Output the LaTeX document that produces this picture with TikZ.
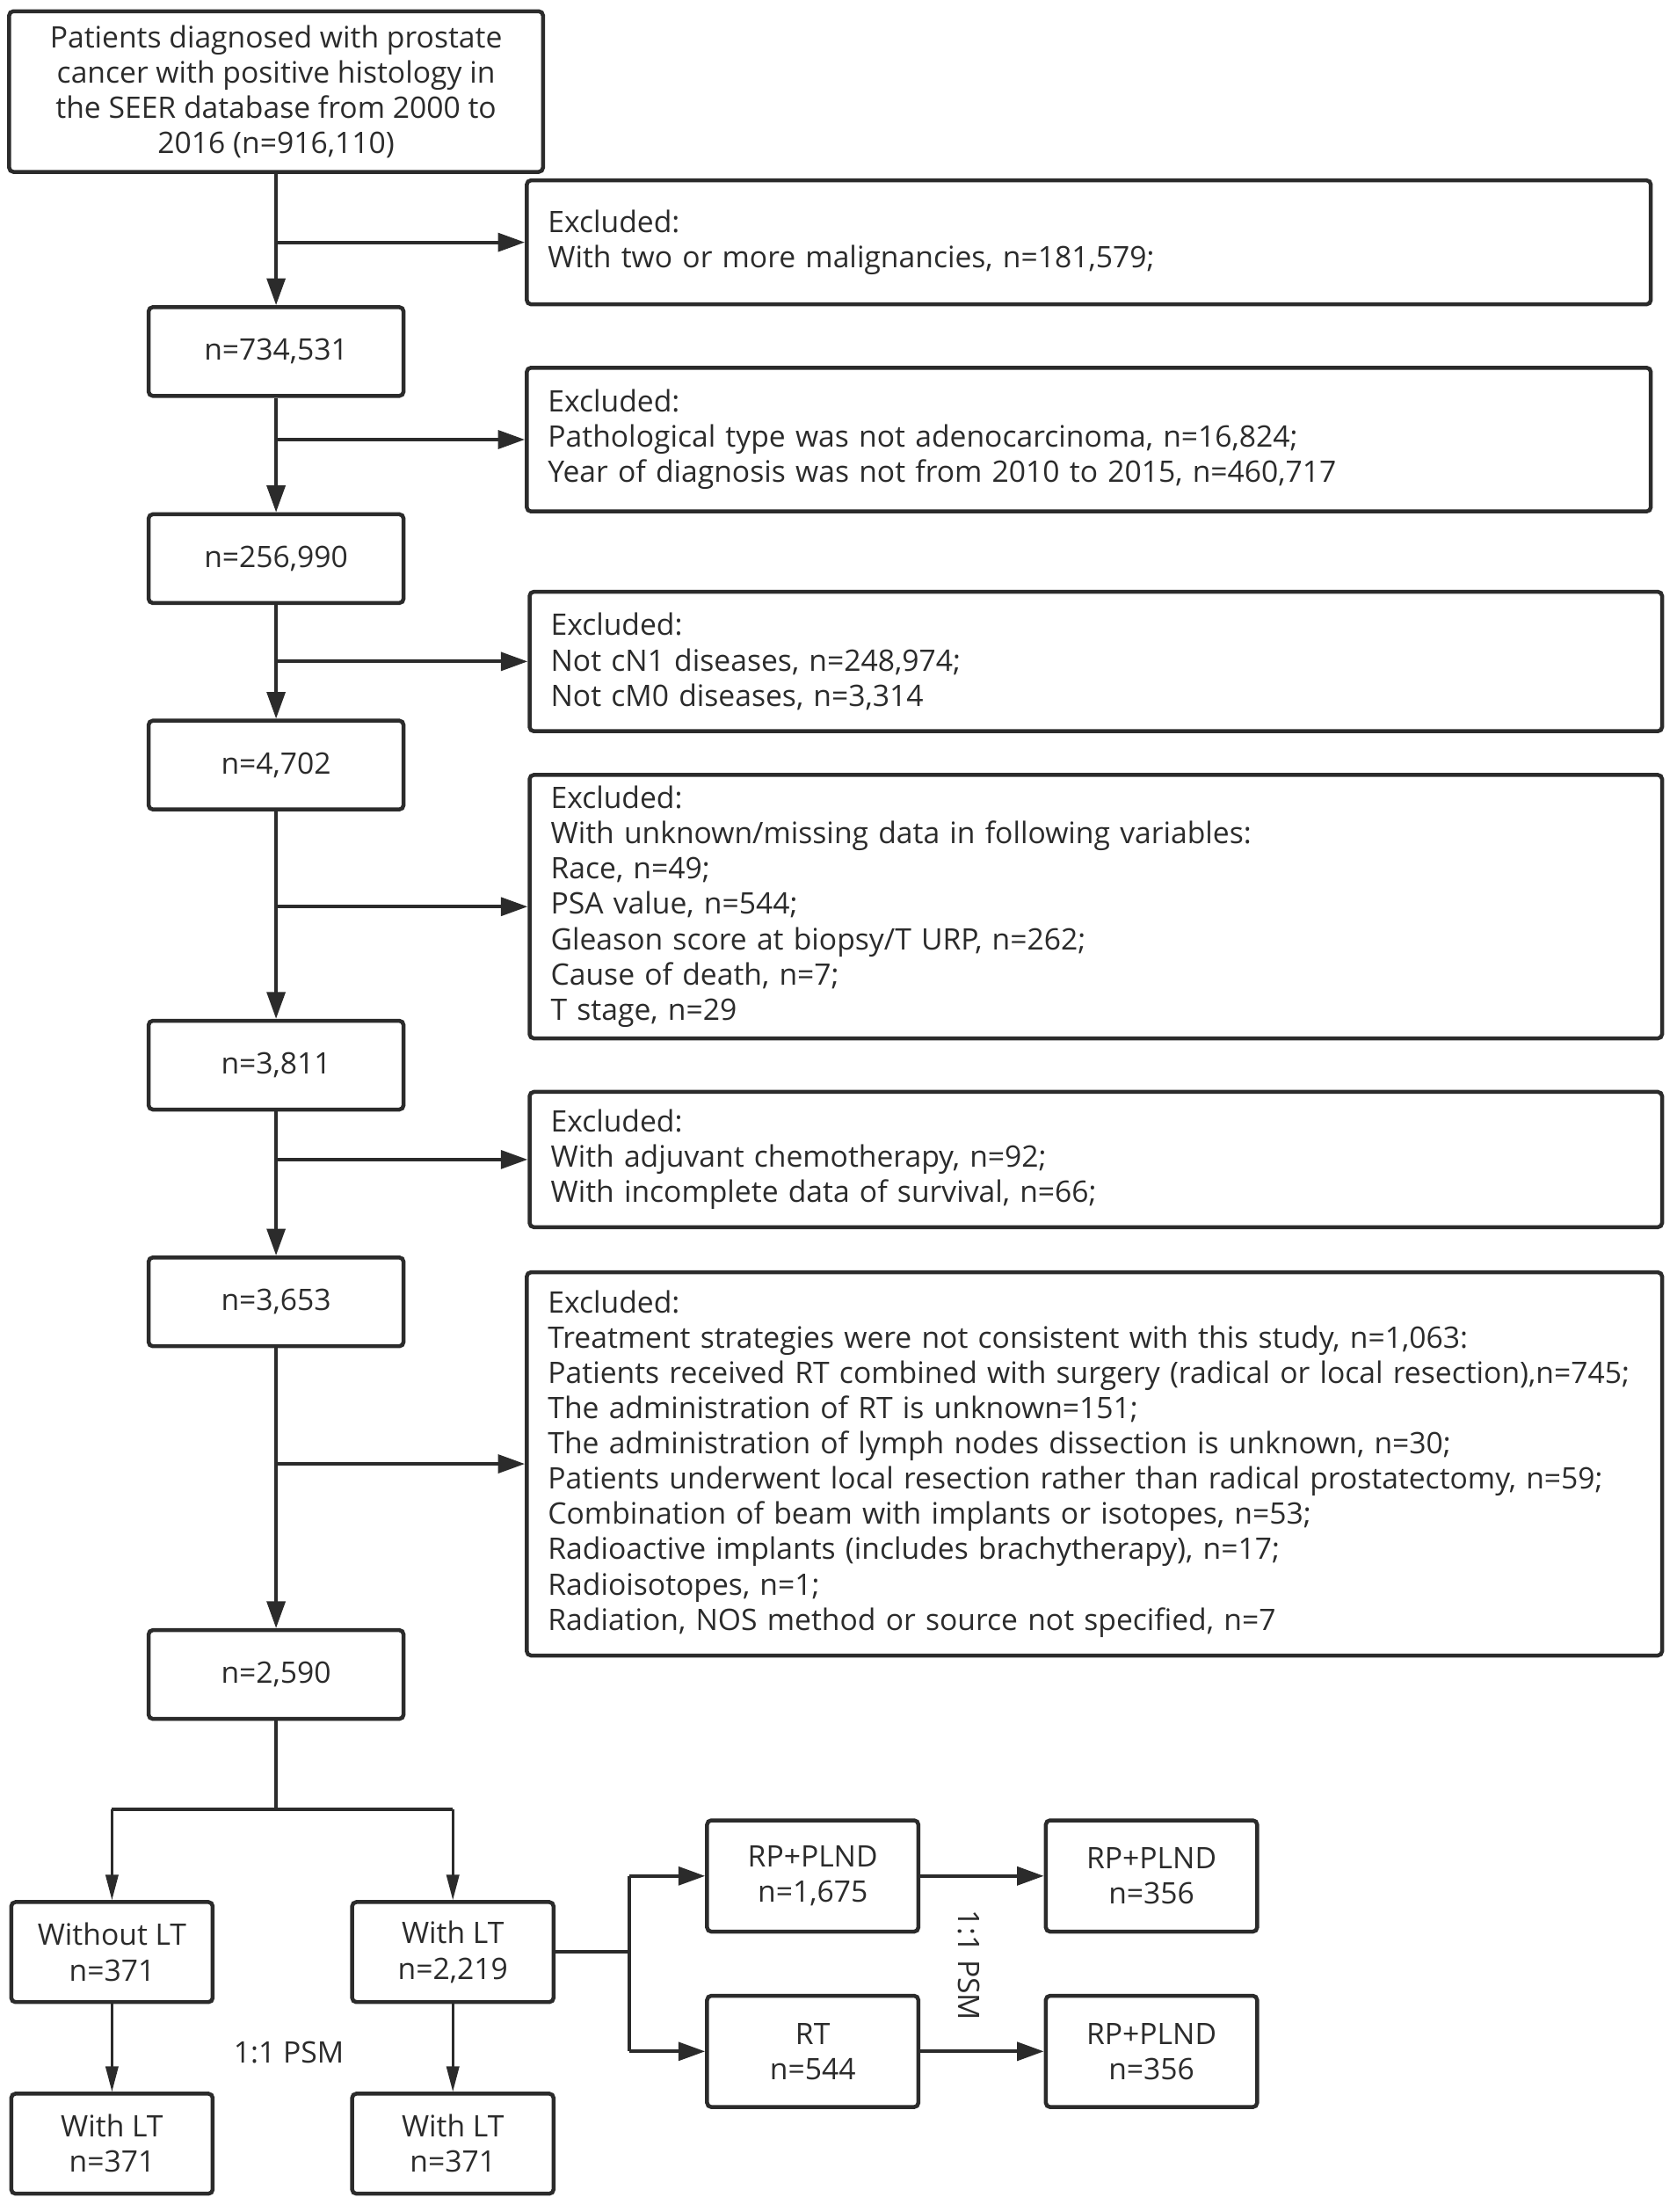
\documentclass[tikz,border=0pt]{standalone}
\usepackage{fontspec}
\setmainfont{Open Sans}
\usetikzlibrary{positioning, arrows.meta}
\definecolor{ink}{HTML}{2B2B2B}

\begin{document}
\begin{tikzpicture}[x=1pt, y=-1pt,
    font=\fontsize{21pt}{25pt}\selectfont, text=ink,
    box/.style={draw=ink, line width=2.8pt, rounded corners=3pt, align=center, inner sep=0pt},
    nbox/.style={box, minimum width=181pt, minimum height=63pt},
    sbox/.style={box, minimum width=143pt, minimum height=71pt},
    tbox/.style={box, minimum width=150pt, minimum height=79pt},
    exbox/.style={box, align=left, inner xsep=15pt},
    flow/.style={draw=ink, line width=2.4pt, -{Triangle[length=19pt, width=13pt]}},
    thinflow/.style={draw=ink, line width=1.6pt, -{Triangle[length=18pt, width=9pt]}},
    bar/.style={draw=ink, line width=2.4pt}]
    \useasboundingbox (0,0) rectangle (1190,1570);

    % main column
    \node [box, minimum width=379pt, minimum height=114pt] (all) at (196, 65)
        {Patients diagnosed with prostate\\cancer with positive histology in\\the SEER database from 2000 to\\2016 (n=916,110)};
    \node [nbox] (n1) at (196, 249.5) {n=734,531};
    \node [nbox] (n2) at (196, 396.5) {n=256,990};
    \node [nbox] (n3) at (196, 543) {n=4,702};
    \node [nbox] (n4) at (196, 756) {n=3,811};
    \node [nbox] (n5) at (196, 924) {n=3,653};
    \node [nbox] (n6) at (196, 1188.5) {n=2,590};

    % excluded
    \node [exbox, text width=768pt, minimum height=88pt] (ex1) at (773, 172)
        {Excluded:\\With two or more malignancies, n=181,579;};
    \node [exbox, text width=768pt, minimum height=102pt] (ex2) at (773, 312)
        {Excluded:\\Pathological type was not adenocarcinoma, n=16,824;\\Year of diagnosis was not from 2010 to 2015, n=460,717};
    \node [exbox, text width=774pt, minimum height=99pt] (ex3) at (778, 469.5)
        {Excluded:\\Not cN1 diseases, n=248,974;\\Not cM0 diseases, n=3,314};
    \node [exbox, text width=774pt, minimum height=187pt] (ex4) at (778, 643.5)
        {Excluded:\\With unknown/missing data in following variables:\\Race, n=49;\\PSA value, n=544;\\Gleason score at biopsy/T URP, n=262;\\Cause of death, n=7;\\T stage, n=29};
    \node [exbox, text width=774pt, minimum height=96pt] (ex5) at (778, 823)
        {Excluded:\\With adjuvant chemotherapy, n=92;\\With incomplete data of survival, n=66;};
    \node [exbox, text width=776pt, minimum height=272pt] (ex6) at (777, 1039)
        {Excluded:\\Treatment strategies were not consistent with this study, n=1,063:\\Patients received RT combined with surgery (radical or local resection),n=745;\\The administration of RT is unknown=151;\\The administration of lymph nodes dissection is unknown, n=30;\\Patients underwent local resection rather than radical prostatectomy, n=59;\\Combination of beam with implants or isotopes, n=53;\\Radioactive implants (includes brachytherapy), n=17;\\Radioisotopes, n=1;\\Radiation, NOS method or source not specified, n=7};

    % groups
    \node [sbox] (noLT) at (79.5, 1385.5) {Without LT\\n=371};
    \node [sbox] (LT) at (321.5, 1385.5) {With LT\\n=2,219};
    \node [sbox] (noLTm) at (79.5, 1521.5) {With LT\\n=371};
    \node [sbox] (LTm) at (321.5, 1521.5) {With LT\\n=371};
    \node (psm) at (205, 1457) {1:1 PSM};
    \node [tbox] (rp) at (577, 1331.5) {RP+PLND\\n=1,675};
    \node [tbox] (rt) at (577, 1456) {RT\\n=544};
    \node [tbox] (rpm) at (817.5, 1331.5) {RP+PLND\\n=356};
    \node [tbox] (rtm) at (817.5, 1456) {RP+PLND\\n=356};
    \node [rotate=-90] (psm2) at (688, 1395) {1:1 PSM};

    % branch points
    \coordinate (b1) at (all.south |- ex1.west);
    \coordinate (b2) at (all.south |- ex2.west);
    \coordinate (b3) at (all.south |- ex3.west);
    \coordinate (b4) at (all.south |- ex4.west);
    \coordinate (b5) at (all.south |- ex5.west);
    \coordinate (b6) at (all.south |- ex6.west);
    \coordinate (s0) at (196, 1284);
    \coordinate (s1) at (noLT.north |- s0);
    \coordinate (s2) at (LT.north |- s0);
    \coordinate (t0) at (447, 1385.5);
    \coordinate (t1) at (t0 |- rp.west);
    \coordinate (t2) at (t0 |- rt.west);

    \draw [flow] (all) -- (n1);
    \draw [flow] (n1) -- (n2);
    \draw [flow] (n2) -- (n3);
    \draw [flow] (n3) -- (n4);
    \draw [flow] (n4) -- (n5);
    \draw [flow] (n5) -- (n6);
    \draw [flow] (b1) -- (ex1.west);
    \draw [flow] (b2) -- (ex2.west);
    \draw [flow] (b3) -- (ex3.west);
    \draw [flow] (b4) -- (ex4.west);
    \draw [flow] (b5) -- (ex5.west);
    \draw [flow] (b6) -- (ex6.west);

    \draw [bar] (n6) -- (s0);
    \draw [bar] (s1) -- (s2);
    \draw [thinflow] (s1) -- (noLT);
    \draw [thinflow] (s2) -- (LT);
    \draw [thinflow] (noLT) -- (noLTm);
    \draw [thinflow] (LT) -- (LTm);
    \draw [bar] (LT) -- (t0);
    \draw [bar] (t1) -- (t2);
    \draw [flow] (t1) -- (rp);
    \draw [flow] (t2) -- (rt);
    \draw [flow] (rp) -- (rpm);
    \draw [flow] (rt) -- (rtm);
\end{tikzpicture}
\end{document}
